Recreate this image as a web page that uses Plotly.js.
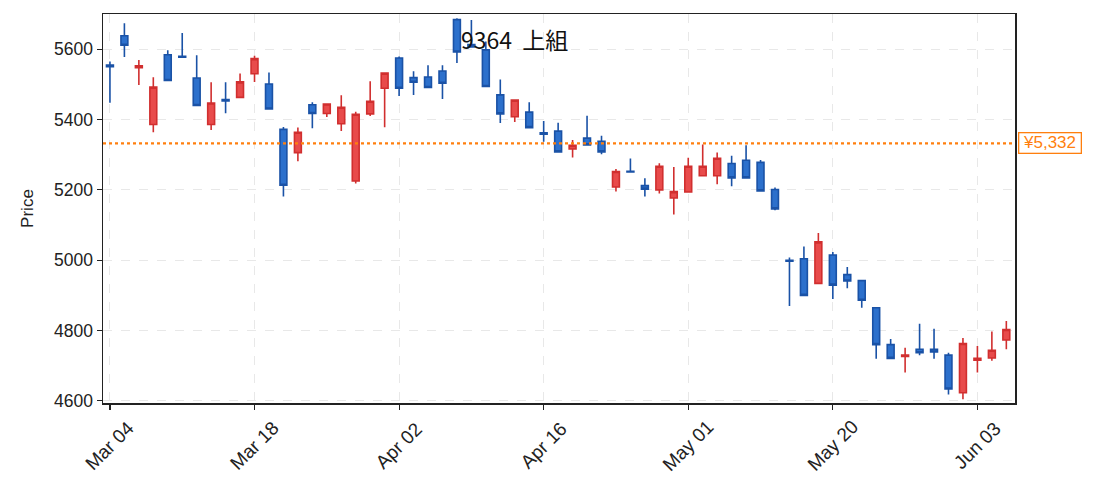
<!DOCTYPE html>
<html>
<head>
<meta charset="utf-8">
<script src="https://cdn.plot.ly/plotly-3.0.1.min.js"></script>
<style>
  html, body { margin: 0; padding: 0; background: #fff; }
  #chart { width: 1093px; height: 491px; }
</style>
</head>
<body>
<div id="chart"></div>
<script>
// daily bars, 9364 上組 (trading days only)
const dates = [
  '2024-03-04','2024-03-05','2024-03-06','2024-03-07','2024-03-08','2024-03-11','2024-03-12','2024-03-13',
  '2024-03-14','2024-03-15','2024-03-18','2024-03-19','2024-03-21','2024-03-22','2024-03-25','2024-03-26',
  '2024-03-27','2024-03-28','2024-03-29','2024-04-01','2024-04-02','2024-04-03','2024-04-04','2024-04-05',
  '2024-04-08','2024-04-09','2024-04-10','2024-04-11','2024-04-12','2024-04-15','2024-04-16','2024-04-17',
  '2024-04-18','2024-04-19','2024-04-22','2024-04-23','2024-04-24','2024-04-25','2024-04-26','2024-04-30',
  '2024-05-01','2024-05-07','2024-05-08','2024-05-09','2024-05-10','2024-05-13','2024-05-14','2024-05-15',
  '2024-05-16','2024-05-17','2024-05-20','2024-05-21','2024-05-22','2024-05-23','2024-05-24','2024-05-27',
  '2024-05-28','2024-05-29','2024-05-30','2024-05-31','2024-06-03','2024-06-04','2024-06-05'
];
const opens = [
  5555, 5638, 5547, 5386, 5584, 5580, 5518, 5386, 5457, 5463, 5530, 5501, 5372, 5306, 5442, 5417,
  5388, 5225, 5416, 5489, 5575, 5519, 5521, 5538, 5684, 5613, 5598, 5470, 5408, 5421, 5362, 5367,
  5316, 5347, 5338, 5208, 5253, 5212, 5200, 5177, 5194, 5240, 5240, 5275, 5284, 5278, 5201, 5000,
  5004, 4934, 5015, 4959, 4942, 4865, 4760, 4726, 4747, 4747, 4730, 4623, 4716, 4722, 4773
];
const highs = [
  5565, 5674, 5569, 5520, 5597, 5646, 5583, 5506, 5506, 5531, 5581, 5534, 5379, 5377, 5449, 5445,
  5469, 5422, 5509, 5533, 5579, 5537, 5554, 5554, 5688, 5683, 5622, 5514, 5455, 5449, 5396, 5391,
  5342, 5411, 5354, 5259, 5289, 5233, 5276, 5265, 5291, 5329, 5306, 5297, 5327, 5285, 5207, 5008,
  5039, 5077, 5023, 4981, 4942, 4865, 4776, 4751, 4819, 4805, 4737, 4779, 4756, 4797, 4827
];
const lows = [
  5448, 5578, 5498, 5364, 5511, 5576, 5440, 5370, 5418, 5463, 5507, 5430, 5181, 5281, 5375, 5407,
  5367, 5218, 5410, 5378, 5467, 5470, 5491, 5458, 5561, 5604, 5494, 5390, 5393, 5377, 5337, 5308,
  5292, 5328, 5301, 5195, 5251, 5181, 5190, 5130, 5194, 5240, 5216, 5210, 5234, 5197, 5142, 4870,
  4900, 4934, 4890, 4920, 4865, 4720, 4721, 4681, 4730, 4720, 4618, 4605, 4681, 4714, 4747
];
const closes = [
  5550, 5611, 5553, 5492, 5511, 5577, 5440, 5447, 5453, 5507, 5573, 5430, 5213, 5364, 5417, 5444,
  5435, 5415, 5452, 5532, 5489, 5506, 5491, 5503, 5592, 5606, 5494, 5416, 5455, 5377, 5358, 5308,
  5327, 5328, 5308, 5252, 5251, 5202, 5267, 5195, 5267, 5267, 5290, 5234, 5234, 5197, 5146, 4997,
  4900, 5052, 4929, 4941, 4886, 4760, 4721, 4730, 4737, 4739, 4634, 4763, 4721, 4744, 4803
];
const tickDates = ['2024-03-04','2024-03-18','2024-04-02','2024-04-16','2024-05-01','2024-05-20','2024-06-03'];
const tickLabels = ['Mar 04','Mar 18','Apr 02','Apr 16','May 01','May 20','Jun 03'];
const priceTicks = [4600, 4800, 5000, 5200, 5400, 5600];
const refLevel = 5332;
const chartTitle = '9364  上組';

const FONT = '"Liberation Sans", "Noto Sans CJK JP", sans-serif';
const CJK = '"Noto Sans CJK JP", "Liberation Sans", sans-serif';

const trace = {
  type: 'candlestick',
  x: dates,
  open: opens,
  high: highs,
  low: lows,
  close: closes,
  increasing: { line: { color: '#d12f2f', width: 1.6 }, fillcolor: '#e84b4b' },
  decreasing: { line: { color: '#1a52a6', width: 1.6 }, fillcolor: '#2c70cc' },
  whiskerwidth: 0,
  showlegend: false,
  hoverinfo: 'x+y'
};

// rotated date labels centred under their ticks (matplotlib style)
const dateLabels = tickDates.map((d, i) => ({
  xref: 'x', yref: 'paper',
  x: d, y: -0.11,
  xanchor: 'center', yanchor: 'middle',
  text: tickLabels[i],
  textangle: -45,
  showarrow: false,
  font: { size: 19, color: '#222', family: FONT }
}));

const layout = {
  width: 1093,
  height: 491,
  margin: { l: 103, r: 78, t: 14, b: 88 },
  paper_bgcolor: '#ffffff',
  plot_bgcolor: '#ffffff',
  font: { family: FONT, size: 14, color: '#222' },
  boxgap: 0.32,
  xaxis: {
    type: 'category',
    range: [-0.48, 62.6],
    tickvals: tickDates,
    showticklabels: false,
    ticks: 'outside',
    ticklen: 5,
    tickwidth: 1.2,
    tickcolor: '#222',
    showline: true,
    linecolor: '#222',
    linewidth: 1.5,
    mirror: true,
    showgrid: true,
    gridcolor: '#e8e8e8',
    griddash: 'dash',
    gridwidth: 1,
    rangeslider: { visible: false },
    zeroline: false
  },
  yaxis: {
    range: [4594, 5700],
    tickvals: priceTicks,
    ticks: 'outside',
    ticklen: 5,
    tickwidth: 1.2,
    tickcolor: '#222',
    showline: true,
    linecolor: '#222',
    linewidth: 1.5,
    mirror: true,
    showgrid: true,
    gridcolor: '#e8e8e8',
    griddash: 'dash',
    gridwidth: 1,
    zeroline: false,
    tickfont: { size: 17.5, color: '#222', family: FONT },
    title: { text: 'Price', font: { size: 17, color: '#222', family: FONT }, standoff: 16 }
  },
  shapes: [{
    type: 'line',
    xref: 'paper', x0: 0, x1: 1,
    yref: 'y', y0: refLevel, y1: refLevel,
    line: { color: '#ff7f0e', width: 2.2, dash: 'dot' }
  }],
  annotations: dateLabels.concat([
    {
      xref: 'paper', yref: 'y',
      x: 1.003, y: refLevel,
      xanchor: 'left', yanchor: 'middle',
      text: '\u00a0¥' + refLevel.toLocaleString('en-US') + '\u00a0',
      showarrow: false,
      font: { size: 17, color: '#ff7f0e', family: FONT },
      bgcolor: '#ffffff',
      bordercolor: '#ff7f0e',
      borderwidth: 1.3,
      borderpad: 0
    },
    {
      xref: 'paper', yref: 'paper',
      x: 0.451, y: 0.936,
      xanchor: 'center', yanchor: 'middle',
      text: chartTitle,
      showarrow: false,
      font: { size: 23, color: '#111', family: CJK }
    }
  ])
};

Plotly.newPlot('chart', [trace], layout, { displayModeBar: false, staticPlot: true });
</script>
</body>
</html>
